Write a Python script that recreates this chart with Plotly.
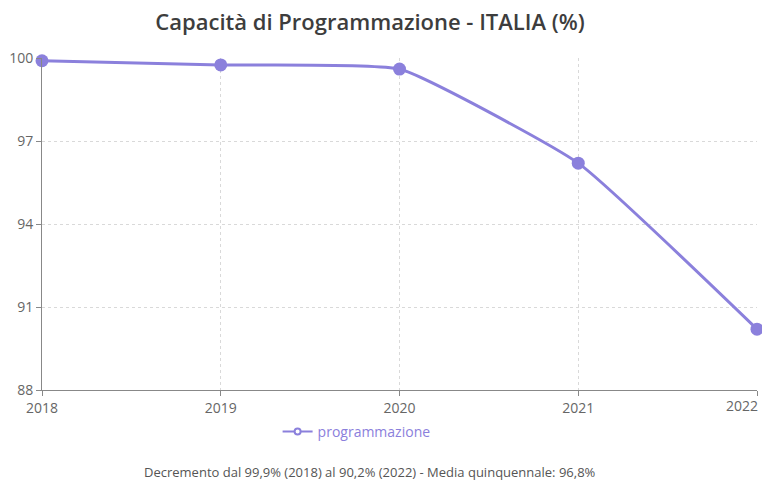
import plotly.graph_objects as go

years = [2018, 2019, 2020, 2021, 2022]
values = [99.9, 99.75, 99.6, 96.2, 90.2]
y_ticks = [88, 91, 94, 97, 100]
title_text = "Capacità di Programmazione - ITALIA (%)"
series_name = "programmazione"
note_text = "Decremento dal 99,9% (2018) al 90,2% (2022) - Media quinquennale: 96,8%"

color = "#8b80dc"
font_family = "Open Sans, Noto Sans, sans-serif"

fig = go.Figure()
fig.add_trace(go.Scatter(
    x=years, y=values, name=series_name, legendgroup="p", showlegend=False,
    mode="lines+markers",
    line=dict(color=color, width=3, shape="spline", smoothing=0.4),
    marker=dict(color=color, size=13),
    cliponaxis=False,
))
# legend-only entry with a smaller symbol, like the reference
fig.add_trace(go.Scatter(
    x=[None], y=[None], name=series_name, legendgroup="p", showlegend=True,
    mode="lines+markers",
    line=dict(color=color, width=2),
    marker=dict(color="white", size=6, line=dict(color=color, width=2)),
))

W, H = 762, 481
tick_font = dict(size=14, color="#666666", family=font_family)
annotations = [dict(text=note_text, x=0.459, xref="paper", xanchor="center",
                    y=-0.247, yref="paper", yanchor="middle", showarrow=False,
                    font=dict(size=13, color="#555555"))]
# last x tick label placed right-aligned so it stays inside the page
annotations.append(dict(text=str(years[-1]), x=years[-1], xref="x", xanchor="right",
                        y=0, yref="paper", yanchor="top", yshift=-4, xshift=3,
                        showarrow=False, font=tick_font))

fig.update_layout(
    width=W, height=H,
    margin=dict(l=42, r=5, t=58, b=91, autoexpand=False),
    paper_bgcolor="white", plot_bgcolor="white",
    font=dict(family=font_family, color="#666666", size=13),
    title=dict(text=title_text, x=0.4856, xanchor="center", y=1 - 22 / H, yanchor="middle",
               font=dict(size=22, color="#3d3d3d", family=font_family, weight=600)),
    showlegend=True,
    legend=dict(orientation="h", x=0.44, xanchor="center", y=-0.1265, yanchor="middle",
                font=dict(color=color, size=14), itemwidth=30),
    annotations=annotations,
)
fig.update_xaxes(
    range=[2018, 2022], tickvals=years,
    ticktext=[str(y) for y in years[:-1]] + [""],
    showgrid=True, gridcolor="#d9d9d9", griddash="dot", gridwidth=1,
    showline=True, linecolor="#888888", linewidth=1,
    ticks="outside", ticklen=5, tickcolor="#888888",
    zeroline=False, tickfont=tick_font, automargin=False,
)
fig.update_yaxes(
    range=[88, 100], tickvals=y_ticks,
    showgrid=True, gridcolor="#d9d9d9", griddash="dot", gridwidth=1,
    showline=True, linecolor="#888888", linewidth=1,
    ticks="outside", ticklen=5, tickcolor="#888888", ticklabelstandoff=0,
    zeroline=False, tickfont=tick_font, automargin=False,
)

fig.write_html("out.html", config={"displayModeBar": False},
               post_script="document.body.style.margin='0';document.body.style.overflow='hidden';")
